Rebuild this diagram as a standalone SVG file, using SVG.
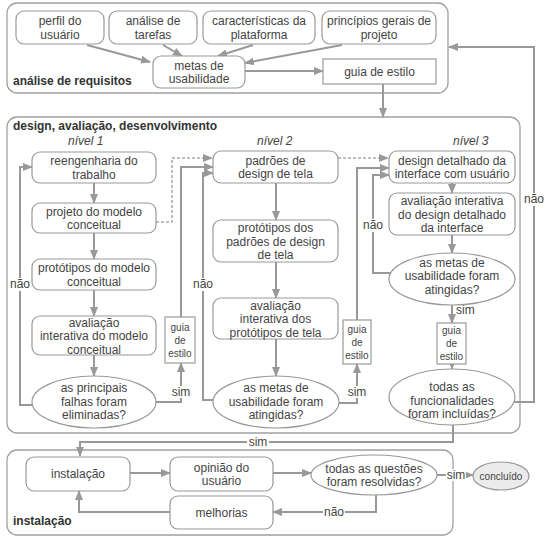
<svg xmlns="http://www.w3.org/2000/svg" width="548" height="543" viewBox="0 0 548 543">
<style>
.c{fill:none;stroke:#a0a0a0;stroke-width:1.3}
.b{fill:#fff;stroke:#999;stroke-width:1.2}
.l{fill:none;stroke:#999;stroke-width:2}
.d{fill:none;stroke:#aaa;stroke-width:1.6;stroke-dasharray:3 2}
text{font-family:"Liberation Sans",Arial,sans-serif;font-size:12px;fill:#444;text-anchor:middle}
.t{font-weight:bold;text-anchor:start;fill:#333}
.s{font-size:10px}
.i{font-style:italic;text-anchor:start}
.bg{fill:#fff;stroke:none}
</style>
<defs>
<marker id="a" markerUnits="userSpaceOnUse" markerWidth="10" markerHeight="10" viewBox="0 0 10 10" refX="9" refY="5" orient="auto">
<path d="M0,1 L10,5 L0,9 Z" fill="#999"/>
</marker>
</defs>
<g id="containers">
<rect class="c" x="7" y="3" width="441" height="90" rx="10"/>
<text class="t" x="13" y="85">análise de requisitos</text>
<rect class="c" x="7" y="117" width="513" height="316" rx="10"/>
<text class="t" x="13" y="130">design, avaliação, desenvolvimento</text>
<rect class="c" x="7" y="450" width="446" height="85" rx="10"/>
<text class="t" x="13" y="525">instalação</text>
</g>
<g id="connectors">
<path class="l" d="M87,45 L150,62" marker-end="url(#a)"/>
<path class="l" d="M163,45 L182,56" marker-end="url(#a)"/>
<path class="l" d="M253,45 L218,56" marker-end="url(#a)"/>
<path class="l" d="M342,45 L245,63" marker-end="url(#a)"/>
<path class="l" d="M245,71 L323,71" marker-end="url(#a)"/>
<path class="l" d="M383,84 L383,117" marker-end="url(#a)"/>
<path class="l" d="M514,402 L534,402 L534,47 L449,47" marker-end="url(#a)"/>
<path class="l" d="M94,183 L94,203" marker-end="url(#a)"/>
<path class="l" d="M94,233 L94,259" marker-end="url(#a)"/>
<path class="l" d="M94,290 L94,316" marker-end="url(#a)"/>
<path class="l" d="M94,355 L94,376" marker-end="url(#a)"/>
<path class="l" d="M33,405 L20,405 L20,167 L32,167" marker-end="url(#a)"/>
<path class="l" d="M155,402 L181,402 L181,363" marker-end="url(#a)"/>
<path class="l" d="M181,317 L181,167 L213,167" marker-end="url(#a)"/>
<path class="d" d="M156,222 L172,222 L172,158 L212,158" marker-end="url(#a)"/>
<path class="l" d="M276,183 L276,220" marker-end="url(#a)"/>
<path class="l" d="M276,262 L276,298" marker-end="url(#a)"/>
<path class="l" d="M276,339 L276,376" marker-end="url(#a)"/>
<path class="l" d="M213,400 L203,400 L203,173 L213,173" marker-end="url(#a)"/>
<path class="l" d="M338,403 L357,403 L357,364" marker-end="url(#a)"/>
<path class="l" d="M357,320 L357,168 L389,168" marker-end="url(#a)"/>
<path class="d" d="M338,158 L388,158" marker-end="url(#a)"/>
<path class="l" d="M452,183 L452,193" marker-end="url(#a)"/>
<path class="l" d="M452,235 L452,253" marker-end="url(#a)"/>
<path class="l" d="M391,273 L373,273 L373,175 L389,175" marker-end="url(#a)"/>
<path class="l" d="M452,305 L452,323" marker-end="url(#a)"/>
<path class="l" d="M452,364 L452,369" marker-end="url(#a)"/>
<path class="l" d="M453,425 L453,442 L80,442 L80,456" marker-end="url(#a)"/>
<path class="l" d="M130,473 L170,473" marker-end="url(#a)"/>
<path class="l" d="M273,473 L311,473" marker-end="url(#a)"/>
<path class="l" d="M437,475 L473,475" marker-end="url(#a)"/>
<path class="l" d="M376,495 L376,512 L273,512" marker-end="url(#a)"/>
<path class="l" d="M170,512 L79,512 L79,491" marker-end="url(#a)"/>
<rect class="bg" x="9" y="278" width="22" height="13"/>
<text x="20" y="288">não</text>
<rect class="bg" x="192" y="278" width="22" height="13"/>
<text x="203" y="288">não</text>
<rect class="bg" x="362" y="219" width="22" height="13"/>
<text x="373" y="229">não</text>
<rect class="bg" x="523" y="193" width="22" height="13"/>
<text x="534" y="203">não</text>
<rect class="bg" x="171" y="386" width="20" height="12"/>
<text x="181" y="396">sim</text>
<rect class="bg" x="347" y="386" width="20" height="12"/>
<text x="357" y="396">sim</text>
<text x="456" y="314" style="text-anchor:start">sim</text>
<rect class="bg" x="247" y="436" width="22" height="12"/>
<text x="258" y="446">sim</text>
<rect class="bg" x="446" y="469" width="20" height="12"/>
<text x="456" y="479">sim</text>
<rect class="bg" x="323" y="506" width="22" height="12"/>
<text x="334" y="516">não</text>
</g>
<g id="perfil"><rect class="b" x="16" y="11" width="88" height="33" rx="8"/><text x="60" y="25">perfil do</text><text x="60" y="38.5">usuário</text></g>
<g id="tarefas"><rect class="b" x="109" y="11" width="88" height="33" rx="8"/><text x="153" y="25">análise de</text><text x="153" y="38.5">tarefas</text></g>
<g id="plataforma"><rect class="b" x="203" y="11" width="112" height="33" rx="8"/><text x="259" y="25">características da</text><text x="259" y="38.5">plataforma</text></g>
<g id="principios"><rect class="b" x="322" y="11" width="114" height="33" rx="8"/><text x="379" y="25">princípios gerais de</text><text x="379" y="38.5">projeto</text></g>
<g id="metas"><rect class="b" x="153" y="56" width="92" height="32" rx="8"/><text x="199" y="69.5">metas de</text><text x="199" y="83">usabilidade</text></g>
<g id="guia"><rect class="b" x="323" y="59" width="113" height="25"/><text x="379.5" y="76">guia de estilo</text></g>
<text class="i" x="68" y="145">nível 1</text>
<text class="i" x="257" y="145">nível 2</text>
<text class="i" x="453" y="145">nível 3</text>
<g id="reeng"><rect class="b" x="32" y="152" width="124" height="31" rx="8"/><text x="94" y="165">reengenharia do</text><text x="94" y="178.5">trabalho</text></g>
<g id="projeto"><rect class="b" x="32" y="203" width="124" height="30" rx="8"/><text x="94" y="215.5">projeto do modelo</text><text x="94" y="229">conceitual</text></g>
<g id="prototipos1"><rect class="b" x="32" y="259" width="124" height="31" rx="8"/><text x="94" y="272">protótipos do modelo</text><text x="94" y="285.5">conceitual</text></g>
<g id="avaliacao1"><rect class="b" x="32" y="316" width="124" height="39" rx="8"/><text x="94" y="326.5">avaliação</text><text x="94" y="340">interativa do modelo</text><text x="94" y="353.5">conceitual</text></g>
<g id="decisao1"><ellipse class="b" cx="94" cy="402" rx="62" ry="26"/><text x="94" y="392">as principais</text><text x="94" y="405.5">falhas foram</text><text x="94" y="419">eliminadas?</text></g>
<g id="guia1"><rect class="b" x="165" y="317" width="30" height="46"/><text class="s" x="180" y="330.5">guia</text><text class="s" x="180" y="343.5">de</text><text class="s" x="180" y="356.5">estilo</text></g>
<g id="padroes"><rect class="b" x="213" y="151" width="125" height="32" rx="8"/><text x="275.5" y="164.5">padrões de</text><text x="275.5" y="178">design de tela</text></g>
<g id="prototipos2"><rect class="b" x="213" y="220" width="125" height="42" rx="8"/><text x="275.5" y="232">protótipos dos</text><text x="275.5" y="245.5">padrões de design</text><text x="275.5" y="259">de tela</text></g>
<g id="avaliacao2"><rect class="b" x="213" y="298" width="125" height="41" rx="8"/><text x="275.5" y="309.5">avaliação</text><text x="275.5" y="323">interativa dos</text><text x="275.5" y="336.5">protótipos de tela</text></g>
<g id="decisao2"><ellipse class="b" cx="276" cy="402" rx="63" ry="26"/><text x="276" y="392">as metas de</text><text x="276" y="405.5">usabilidade foram</text><text x="276" y="419">atingidas?</text></g>
<g id="guia2"><rect class="b" x="343" y="320" width="28" height="44"/><text class="s" x="357" y="332.5">guia</text><text class="s" x="357" y="345.5">de</text><text class="s" x="357" y="358.5">estilo</text></g>
<g id="detalhado"><rect class="b" x="389" y="151" width="126" height="32" rx="8"/><text x="452" y="164.5">design detalhado da</text><text x="452" y="178">interface com usuário</text></g>
<g id="avaliacao3"><rect class="b" x="389" y="193" width="126" height="42" rx="8"/><text x="452" y="205">avaliação interativa</text><text x="452" y="218.5">do design detalhado</text><text x="452" y="232">da interface</text></g>
<g id="decisao3"><ellipse class="b" cx="452" cy="279" rx="63" ry="26"/><text x="452" y="266.5">as metas de</text><text x="452" y="280">usabilidade foram</text><text x="452" y="293.5">atingidas?</text></g>
<g id="guia3"><rect class="b" x="437" y="323" width="29" height="41"/><text class="s" x="451.5" y="334">guia</text><text class="s" x="451.5" y="347">de</text><text class="s" x="451.5" y="360">estilo</text></g>
<g id="decisao4"><ellipse class="b" cx="452" cy="397" rx="63" ry="28"/><text x="452" y="391">todas as</text><text x="452" y="404.5">funcionalidades</text><text x="452" y="418">foram incluídas?</text></g>
<g id="instalacao"><rect class="b" x="26" y="457" width="104" height="34" rx="8"/><text x="78" y="478.3">instalação</text></g>
<g id="opiniao"><rect class="b" x="170" y="457" width="103" height="34" rx="8"/><text x="221.5" y="471.5">opinião do</text><text x="221.5" y="485">usuário</text></g>
<g id="melhorias"><rect class="b" x="170" y="496" width="103" height="33" rx="8"/><text x="221.5" y="516.8">melhorias</text></g>
<g id="decisao5"><ellipse class="b" cx="374" cy="475" rx="63" ry="20"/><text x="374" y="472.5">todas as questões</text><text x="374" y="486">foram resolvidas?</text></g>
<g id="concluido"><ellipse cx="501" cy="476" rx="28" ry="14" fill="#ebebeb" stroke="#999" stroke-width="1.2"/><text class="s" x="501" y="479.5">concluído</text></g>
</svg>
